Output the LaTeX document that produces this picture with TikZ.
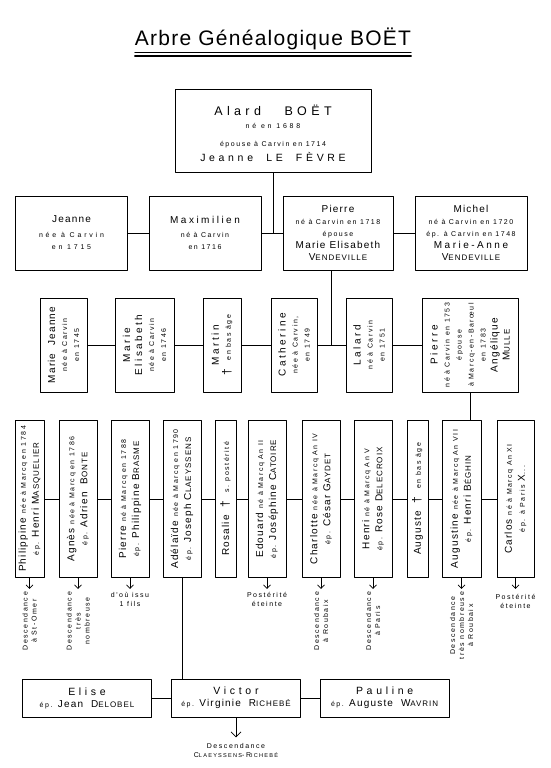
\documentclass[tikz,border=0pt]{standalone}
\usepackage{fontspec}
\setmainfont{Liberation Sans}
\newfontfamily\nmfont[LetterSpace=12]{Liberation Sans}
\newfontfamily\wnfont[LetterSpace=25]{Liberation Sans}
\newfontfamily\xwfont[LetterSpace=35]{Liberation Sans}
\newfontfamily\smfont[LetterSpace=22]{Liberation Sans}
\newfontfamily\wsmfont[LetterSpace=40]{Liberation Sans}
\newfontfamily\ttlfont[LetterSpace=6]{Liberation Sans}
\newcommand\sm[1]{{\smfont\fontsize{7}{8}\selectfont #1}}
\newcommand\wsm[1]{{\wsmfont\fontsize{7}{8}\selectfont #1}}
\newcommand\wn[1]{{\wnfont\fontsize{10}{12}\selectfont #1}}
\newcommand\xw[2][10.5]{{\xwfont\fontsize{#1}{13}\selectfont #2}}
\newcommand\sk[2]{#1\scalebox{.8}{#2}}
\usetikzlibrary{arrows.meta,calc}
\begin{document}
\begin{tikzpicture}[x=1pt, y=-1pt, line join=round, line cap=round, >={Straight Barb[length=3.5pt,width=7pt]},
 box/.style={draw, line width=.7pt, inner sep=0pt},
 txt/.style={align=center, inner sep=0pt, font=\nmfont\fontsize{10}{12}\selectfont},
 rot/.style={txt, rotate=90},
 lab/.style={align=center, inner sep=0pt, font=\smfont\fontsize{7}{9}\selectfont},
 link/.style={line width=.7pt}]
\path[use as bounding box, fill=white] (0,0) rectangle (551,768);
% title
\node[anchor=base, inner sep=0pt, font=\ttlfont\fontsize{21}{24}\selectfont] (title) at (273,46) {Arbre Généalogique BOËT};
\draw[line width=.6pt] ([yshift=-6.5pt]title.base west) -- ([yshift=-6.5pt]title.base east);
\draw[line width=1.1pt] ([yshift=-10pt]title.base west) -- ([yshift=-10pt]title.base east);
% Alard
\node[box, minimum width=196pt, minimum height=83pt] (ala) at (273,131.3) {};
\node[txt] (alaT) at (273,133) {\xw[12.5]{Alard\ \ \ BOËT}\\[1pt] \wsm{né en 1688}\\[6pt] \sm{épouse à Carvin en 1714}\\[3pt] \xw{Jeanne\ \ LE\ \ FÈVRE}};
% children of Alard
\foreach \n/\x/\w in {jea/71.5/112, max/205/112, pie/338/110, mic/471/112}
 \node[box, minimum width=\w pt, minimum height=74pt] (\n) at (\x,233) {};
\node[txt] (jeaT) at (jea) {Jeanne\\[3pt] \wsm{née à Carvin}\\ \wsm{en 1715}};
\node[txt] (maxT) at (max) {\wn{Maximilien}\\[2pt] \sm{né à Carvin}\\ \sm{en 1716}};
\node[txt] (pieT) at (pie) {Pierre\\ \sm{né à Carvin en 1718}\\ \sm{épouse}\\ Marie Elisabeth\\ \sk{V}{ENDEVILLE}};
\node[txt] (micT) at (mic) {Michel\\ \sm{né à Carvin en 1720}\\ \sm{ép. à Carvin en 1748}\\ \wn{Marie-Anne}\\ \sk{V}{ENDEVILLE}};
\foreach \a/\b in {jea/max, max/pie, pie/mic}
 \draw[link] (\a) -- (\b);
\draw[link] (ala.south) -- (ala.south |- max.east);
% children of Pierre
\foreach \n/\x/\w in {mj/63.5/47, me/144.5/59, mar/222/38, cat/294/46, lal/369/46, pb/470/96}
 \node[box, minimum width=\w pt, minimum height=94pt] (\n) at (\x,345) {};
\node[rot] (mjT) at (mj) {Marie\ \ Jeanne\\ \sm{née à Carvin}\\ \sm{en 1745}};
\node[rot] (meT) at (me) {\wn{Marie}\\ \wn{Elisabeth}\\ \sm{née à Carvin}\\ \sm{en 1746}};
\node[rot] (marT) at (mar) {\wn{Martin}\\ {\fontsize{12}{12}\selectfont †}\ \ \sm{en bas âge}};
\node[rot] (catT) at (cat) {\wn{Catherine}\\ \sm{née à Carvin,}\\ \sm{en 1749}};
\node[rot] (lalT) at (lal) {\wn{Lalard}\\ \sm{né à Carvin}\\ \sm{en 1751}};
\node[rot] (pbT) at (pb) {\wn{Pierre}\\ \sm{né à Carvin en 1753}\\ \sm{épouse}\\ \sm{à Marcq-en-Barœul}\\ \sm{en 1783}\\ Angélique\\ \sk{M}{ULLE}};
\foreach \a/\b in {mj/me, me/mar, mar/cat, cat/lal, lal/pb}
 \draw[link] (\a) -- (\b);
\coordinate (j3) at ($(cat.east)!.5!(lal.west)$);
\draw[link] (pie.south -| j3) -- (j3);
% children of Pierre and Angelique
\foreach \n/\x/\w in {ph/29.5/29, ag/78/38, pi/130/38, ad/182/38, ro/225.5/21, ed/267/38, ch/321/38, he/373/38, au/417.5/21, agu/461.5/39, ca/515.5/37}
 \node[box, minimum width=\w pt, minimum height=157pt] (\n) at (\x,499) {};
\node[rot] (phT) at (ph) {Philippine \sm{née à Marcq en 1784}\\[1pt] \sm{ép.} Henri \sk{M}{ASQUELIER}};
\node[rot] (agT) at (ag) {Agnès \sm{née à Marcq en 1786}\\[1pt] \sm{ép.} Adrien\ \ \sk{B}{ONTE}};
\node[rot] (piT) at (pi) {Pierre \sm{né à Marcq en 1788}\\[1pt] \sm{ép.} Philippine \sk{B}{RASME}};
\node[rot] (adT) at (ad) {Adélaïde \sm{née à Marcq en 1790}\\[1pt] \sm{ép.} Joseph \sk{C}{LAEYSSENS}};
\node[rot] (roT) at (ro) {Rosalie\ \ {\fontsize{12}{12}\selectfont †}\ \ \sm{s. postérité}};
\node[rot] (edT) at (ed) {Edouard \sm{né à Marcq An II}\\[1pt] \sm{ép.} Joséphine \sk{C}{ATOIRE}};
\node[rot] (chT) at (ch) {Charlotte \sm{née à Marcq An IV}\\[1pt] \sm{ép.} César \sk{G}{AYDET}};
\node[rot] (heT) at (he) {Henri \sm{né à Marcq An V}\\[1pt] \sm{ép.} Rose \sk{D}{ELECROIX}};
\node[rot] (auT) at (au) {Auguste\ \ {\fontsize{12}{12}\selectfont †}\ \ \sm{en bas âge}};
\node[rot] (aguT) at (agu) {Augustine \sm{née à Marcq An VII}\\[1pt] \sm{ép.} Henri \sk{B}{ÉGHIN}};
\node[rot] (caT) at (ca) {Carlos \sm{né à Marcq An XI}\\[1pt] \sm{ép. à Paris} X\sm{...}};
\foreach \a/\b in {ph/ag, ag/pi, pi/ad, ad/ro, ro/ed, ed/ch, ch/he, he/au, au/agu, agu/ca}
 \draw[link] (\a) -- (\b);
\draw[link] (pb.south) -- (pb.south |- agu.north);
% descendance
\foreach \n in {ph, ag, pi, ed, ch, he, agu, ca} {
 \coordinate (\n-a) at ([yshift=-11pt]\n.south);
 \draw[link,->] (\n.south) -- (\n-a);
}
\node[lab, rotate=90, anchor=east] (phL) at ([yshift=-3pt]ph-a) {Descendance\\à St-Omer};
\node[lab, rotate=90, anchor=east] (agL) at ([yshift=-3pt]ag-a) {Descendance\\très\\nombreuse};
\node[lab, anchor=north] (piL) at ([yshift=-3pt]pi-a) {d'où issu\\1 fils};
\node[lab, anchor=north] (edL) at ([yshift=-3pt]ed-a) {Postérité\\éteinte};
\node[lab, rotate=90, anchor=east] (chL) at ([yshift=-3pt]ch-a) {Descendance\\à Roubaix};
\node[lab, rotate=90, anchor=east] (heL) at ([yshift=-3pt]he-a) {Descendance\\à Paris};
\node[lab, rotate=90, anchor=east] (aguL) at ([yshift=-3pt]agu-a) {Descendance\\très nombreuse\\à Roubaix};
\node[lab, anchor=north] (caL) at ([yshift=-5pt]ca-a) {Postérité\\éteinte};
% children of Adelaide
\foreach \n/\x in {el/87, vi/236, pa/384.6}
 \node[box, minimum width=129pt, minimum height=38pt] (\n) at (\x,698) {};
\node[txt] (elT) at (el) {\xw{Elise}\\ \sm{ép.} Jean\ \ \sk{D}{ELOBEL}};
\node[txt] (viT) at (vi) {\xw{Victor}\\ \sm{ép.} Virginie\ \ \sk{R}{ICHEBÉ}};
\node[txt] (paT) at (pa) {\xw{Pauline}\\ \sm{ép.} Auguste\ \ \sk{W}{AVRIN}};
\foreach \a/\b in {el/vi, vi/pa}
 \draw[link] (\a) -- (\b);
\draw[link] (ad.south) -- (ad.south |- vi.north);
\coordinate (vi-a) at ([yshift=-20pt]vi.south);
\draw[link,->,>={Straight Barb[length=5pt,width=10pt]}] (vi.south) -- (vi-a);
\node[lab, anchor=north] (viL) at ([yshift=-6pt]vi-a) {Descendance\\\sk{C}{LAEYSSENS}-\sk{R}{ICHEBÉ}};
\end{tikzpicture}
\end{document}
